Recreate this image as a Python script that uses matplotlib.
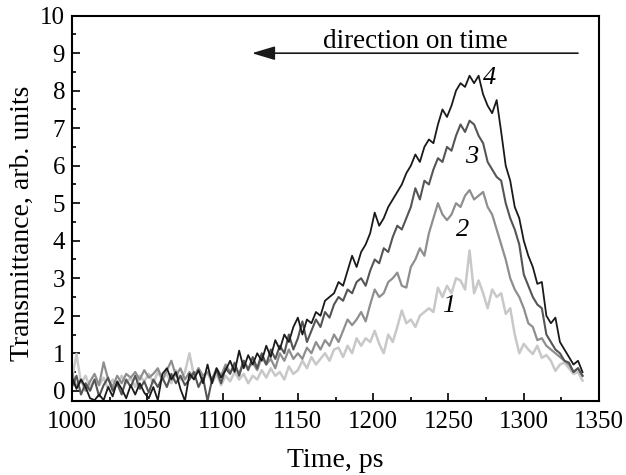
import numpy as np
import matplotlib
matplotlib.use("Agg")
import matplotlib.pyplot as plt
from matplotlib.ticker import MultipleLocator

plt.rcParams['font.family'] = ['Liberation Serif', 'DejaVu Serif']

# time grid, ps (3 ps step, 1000..1339)
time_ps = np.arange(1000, 1340, 3)

# curve 1 (lightest)
curve1 = [0.3, 0.98, 0.2, 0.4, 0.1, 0.3, 0.15, 0.35, 0.05, 0.3,
          0.15, 0.4, 0.2, 0.35, 0.1, 0.4, 0.25, 0.45, 0.2, 0.5,
          0.3, 0.45, 0.2, 0.55, 0.3, 0.5, 1.0, 0.4, 0.6, 0.3,
          0.5, 0.2, 0.45, 0.15, 0.4, 0.25, 0.5, 0.3, 0.45, 0.2,
          0.4, 0.3, 0.55, 0.35, 0.6, 0.4, 0.5, 0.3, 0.65, 0.45,
          0.55, 0.8, 0.6, 0.9, 0.7, 0.85, 1.0, 0.8, 1.1, 1.15,
          0.9, 1.2, 1.0, 1.4, 1.2, 1.4, 1.3, 1.6, 1.25, 1.0,
          1.5, 1.3, 1.7, 2.14, 1.8, 1.9, 1.7, 2.0, 2.1, 2.2,
          2.1, 2.75, 2.5, 2.8, 2.6, 3.0, 2.94, 2.7, 3.74, 2.6,
          2.94, 2.6, 2.2, 2.7, 2.5, 2.6, 2.05, 2.2, 1.5, 1.0,
          1.25, 1.1, 0.98, 1.2, 0.88, 0.95, 0.8, 0.53, 0.7, 0.75,
          0.6, 0.45, 0.5, 0.27]

# curve 2
curve2 = [0.5, 0.1, 0.3, 0.0, 0.25, 0.45, 0.15, 0.76, 0.3, 0.1,
          0.4, 0.2, 0.45, 0.35, 0.5, 0.3, 0.55, 0.35, 0.45, 0.6,
          0.3, 0.55, 0.8, 0.4, 0.6, 0.3, 0.5, 0.35, 0.6, 0.4,
          0.5, 0.3, 0.6, 0.4, 0.7, 0.5, 0.65, 0.45, 0.8, 0.6,
          0.75, 0.55, 0.9, 0.7, 0.85, 0.6, 1.0, 0.8, 1.1, 0.85,
          1.0, 0.85, 1.15, 1.0, 1.3, 1.1, 1.35, 1.2, 1.5, 1.3,
          1.6, 1.9, 1.75, 1.9, 2.1, 1.85, 2.3, 2.7, 2.5, 2.6,
          2.9, 3.0, 3.15, 2.8, 2.75, 3.3, 3.5, 3.8, 3.6, 4.2,
          4.6, 5.0, 4.7, 4.55, 4.7, 5.0, 4.9, 5.2, 5.35, 5.1,
          5.2, 5.3, 4.9, 4.7, 4.3, 3.9, 3.5, 3.0, 2.7, 2.5,
          2.2, 1.8, 1.7, 1.35, 1.4, 1.2, 1.1, 1.0, 0.9, 0.8,
          0.7, 0.5, 0.6, 0.4]

# curve 3
curve3 = [0.1, 0.4, -0.1, 0.2, 0.0, 0.3, -0.15, 0.15, 0.35, 0.0,
          0.2, -0.1, 0.3, 0.1, 0.4, 0.05, 0.25, -0.05, 0.3, 0.1,
          0.35, 0.1, 0.45, 0.2, 0.4, 0.15, 0.3, 0.5, 0.1, 0.35,
          -0.27, 0.3, 0.55, 0.2, 0.6, 0.45, 0.75, 0.4, 0.8, 0.55,
          0.9, 0.6, 1.0, 0.7, 1.1, 0.85, 1.2, 1.0, 1.5, 1.1,
          1.4, 1.85, 1.3, 1.6, 1.9, 1.7, 2.1, 1.95, 2.3, 2.5,
          2.4, 2.7, 2.6, 2.9, 3.0, 2.8, 3.2, 3.5, 3.4, 3.8,
          3.7, 4.1, 4.4, 4.3, 4.6, 4.9, 5.4, 5.1, 5.6, 5.5,
          5.9, 6.2, 6.1, 6.5, 6.4, 6.8, 7.1, 6.9, 7.2, 7.1,
          6.8, 6.6, 6.1, 5.9, 5.7, 5.6, 5.0, 4.6, 4.3, 3.9,
          3.1, 2.8, 2.5, 2.3, 2.2, 1.5, 1.3, 1.1, 1.0, 0.8,
          0.75, 0.5, 0.6, 0.4]

# curve 4 (black)
curve4 = [0.35, 0.05, 0.3, 0.1, -0.2, -0.25, -0.1, -0.25, 0.1, -0.15,
          0.25, 0.05, -0.2, 0.15, -0.1, 0.2, -0.05, -0.2, 0.1, -0.25,
          0.45, 0.6, 0.3, 0.5, 0.05, -0.27, 0.45, 0.3, 0.55, 0.2,
          0.7, 0.2, 0.6, 0.35, 0.55, 0.8, 0.5, 1.07, 0.6, 0.95,
          0.7, 1.0, 0.8, 1.2, 0.9, 1.35, 1.1, 1.5, 1.3, 1.7,
          1.95, 1.5, 1.9, 1.8, 2.1, 2.0, 2.4, 2.5, 2.6, 2.9,
          2.8, 3.2, 3.6, 3.3, 3.7, 3.9, 4.2, 4.75, 4.4, 4.6,
          4.9, 5.1, 5.3, 5.5, 5.8, 6.0, 6.3, 6.1, 6.5, 6.7,
          6.6, 7.1, 7.5, 7.3, 7.6, 8.0, 8.2, 8.1, 8.4, 8.2,
          8.4, 7.9, 7.6, 7.4, 7.75, 6.9, 6.0, 5.6, 4.9, 4.6,
          4.0, 3.6, 3.3, 2.85, 2.9, 2.0, 1.8, 1.95, 1.3, 1.1,
          0.9, 0.7, 0.8, 0.5]

curve_labels = ["1", "2", "3", "4"]
label_x = [1250, 1259.6, 1265.6, 1277]
label_y = [2.27, 4.28, 6.23, 8.34]

fig = plt.figure(figsize=(6.26, 4.75), dpi=100)
ax = fig.add_axes([0.115, 0.156, 0.842, 0.811])

colors = ['#c8c8c8', '#8e8e8e', '#555555', '#1a1a1a']
widths = [1.8, 1.6, 1.5, 1.3]
for ys, c, lw in zip([curve1, curve2, curve3, curve4], colors, widths):
    ax.plot(time_ps, ys, color=c, lw=lw)

for t, x, y in zip(curve_labels, label_x, label_y):
    ax.text(x, y, t, fontsize=19, style='italic', ha='center', va='center')

ax.annotate('', xy=(1119.5, 9), xytext=(1336, 9),
            arrowprops=dict(arrowstyle='-|>,head_length=1.4,head_width=0.42',
                            color='#1a1a1a', lw=1.2, shrinkA=0, shrinkB=0))
ax.text(1228, 9.15, 'direction on time', fontsize=19.5, ha='center', va='baseline')

ax.set_xlim(1000, 1350)
ax.set_ylim(-0.27, 10)
ax.xaxis.set_major_locator(MultipleLocator(50))
ax.xaxis.set_minor_locator(MultipleLocator(25))
ax.yaxis.set_major_locator(MultipleLocator(1))
ax.yaxis.set_minor_locator(MultipleLocator(0.5))
ax.tick_params(which='both', direction='in', labelsize=18, width=1.2)
ax.tick_params(which='major', length=6)
ax.tick_params(which='minor', length=3)
ax.tick_params(axis='y', pad=5)
ax.tick_params(axis='x', pad=7)
for s in ax.spines.values():
    s.set_linewidth(1.5)

ax.set_xlabel('Time, ps', fontsize=20, labelpad=11)
ax.set_ylabel('Transmittance, arb. units', fontsize=20)
ax.yaxis.set_label_coords(-0.071, 0.46)

plt.savefig('out.png', dpi=100)
